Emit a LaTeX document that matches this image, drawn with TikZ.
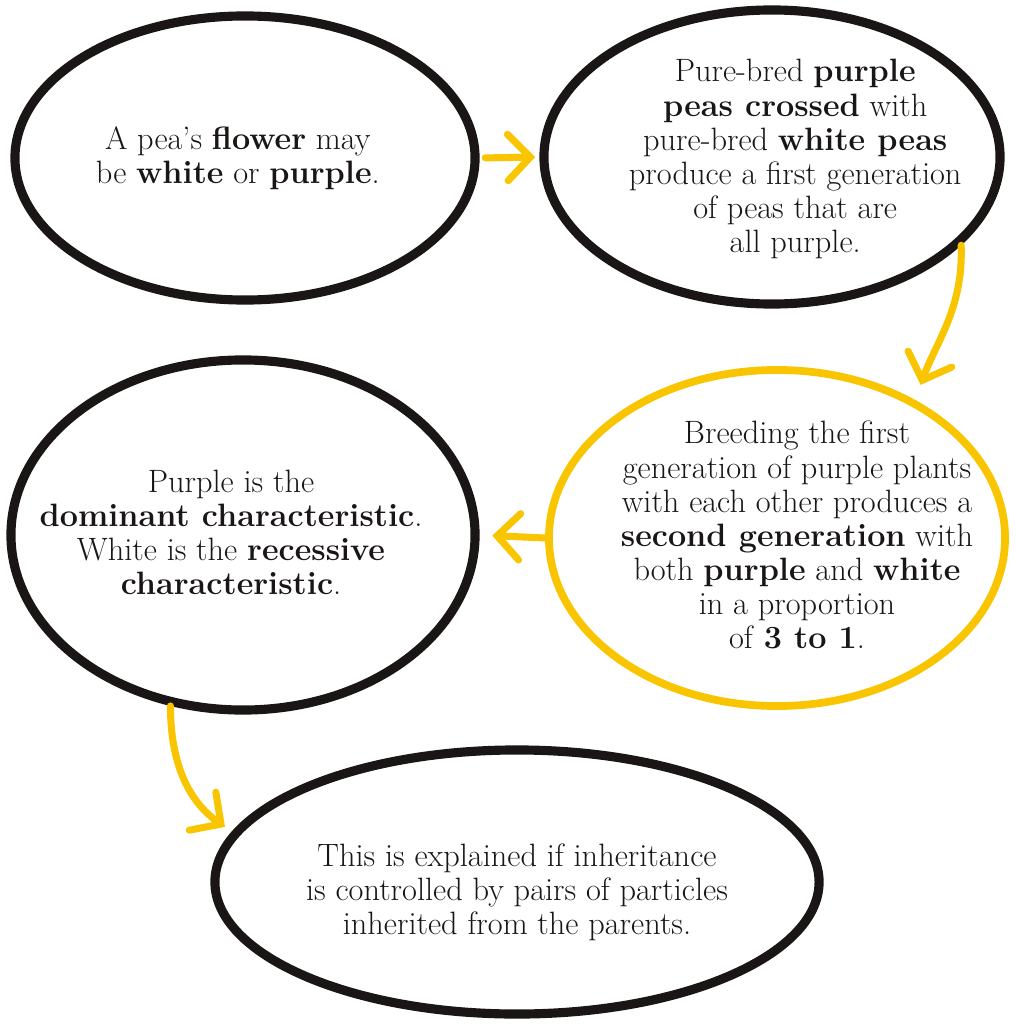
\documentclass[tikz,border=0pt]{standalone}
\usepackage{tikz}
\usetikzlibrary{
  shapes.geometric,
  arrows.meta,
  positioning
}
\usepackage{xcolor}
\definecolor{peayellow}{HTML}{F9C400}
\definecolor{inkblack}{HTML}{1A1616}
% text block set off-centre inside a loop, without growing it
\newcommand{\looptext}[3]{\smash{\makebox[0pt]{\kern#1\raisebox{#2}{\begin{tabular}{@{}c@{}}#3\end{tabular}}\kern-#1}}}
\tikzset{
  loop/.style={
    ellipse, draw=#1, line width=6.5pt, inner sep=0pt,
    font=\fontsize{23}{24.2}\selectfont, text=inkblack, align=center
  },
  loop/.default=inkblack,
  arrow/.style={-{Straight Barb[length=16pt, width=33pt, line cap=round]},
    draw=peayellow, line width=5pt, line cap=round},
}
\begin{document}
\begin{tikzpicture}[
  x=0.025cm, y=-0.025cm,
]
\useasboundingbox (0,0) rectangle (1016,1024);

\node[loop, minimum width=11.5cm, minimum height=7.1cm] (flower) at (245,158)
  {\looptext{-0.18cm}{-0.25cm}{A pea's \textbf{flower} may\\be \textbf{white} or \textbf{purple}.}};
\node[loop, minimum width=11.4cm, minimum height=7.35cm] (cross) at (772,157)
  {\looptext{0.58cm}{-0.3cm}{Pure-bred \textbf{purple}\\\textbf{peas crossed} with\\pure-bred \textbf{white peas}\\produce a first generation\\of peas that are\\all purple.}};
\node[loop=peayellow, line width=5.5pt, minimum width=11.4cm, minimum height=8.4cm] (second) at (777,538)
  {\looptext{0.5cm}{-0.25cm}{Breeding the first\\generation of purple plants\\with each other produces a\\\textbf{second generation} with\\both \textbf{purple} and \textbf{white}\\in a proportion\\of \textbf{3 to 1}.}};
\node[loop, minimum width=11.6cm, minimum height=8.75cm] (dominant) at (243,535)
  {\looptext{-0.3cm}{-0.25cm}{Purple is the\\\textbf{dominant characteristic}.\\White is the \textbf{recessive}\\\textbf{characteristic}.}};
\node[loop, minimum width=15.1cm, minimum height=6.6cm] (particles) at (517,882)
  {\looptext{0cm}{-0.5cm}{This is explained if inheritance\\is controlled by pairs of particles\\inherited from the parents.}};

\draw[arrow, shorten <=4pt, shorten >=3pt] (flower.east) -- (cross.west);
\draw[arrow, shorten >=0.4cm] (cross.-25) to[out=-88, in=70] (second.45);
\draw[arrow, shorten >=9pt] (second.west) -- (dominant.east);
\draw[arrow, shorten >=6pt] (dominant.-113) to[out=-90, in=145] (particles.170);

\end{tikzpicture}
\end{document}
